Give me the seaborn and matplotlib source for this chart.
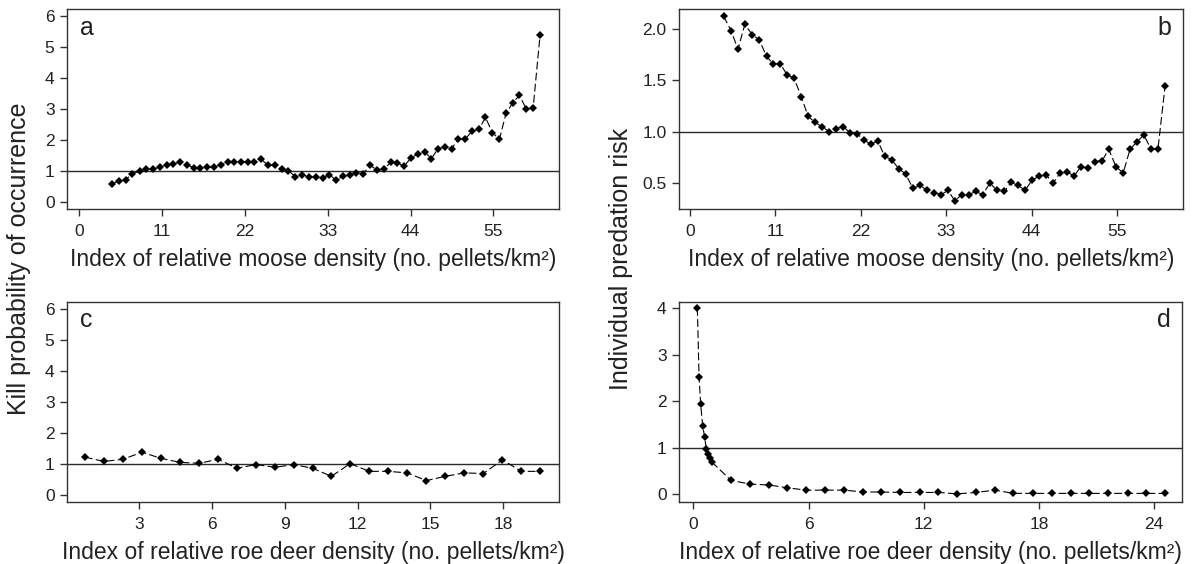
import numpy as np
import pandas as pd
import matplotlib
matplotlib.use("Agg")
import matplotlib.pyplot as plt
import seaborn as sns

# ---- data ----
moose_x = [4.34, 5.31, 6.19, 7.08, 8.05, 8.94, 9.87, 10.71, 11.64, 12.52, 13.41, 14.34, 15.22, 16.11,
           16.99, 17.92, 18.85, 19.73, 20.62, 21.50, 22.39, 23.27, 24.20, 25.09, 25.97, 26.90, 27.79,
           28.72, 29.65, 30.53, 31.42, 32.35, 33.23, 34.12, 35.04, 35.93, 36.81, 37.70, 38.63, 39.56,
           40.49, 41.37, 42.26, 43.14, 44.07, 45.00, 45.88, 46.77, 47.65, 48.58, 49.47, 50.35, 51.28,
           52.17, 53.10, 53.94, 54.87, 55.80, 56.68, 57.57, 58.45, 59.38, 60.27, 61.19]
kill_moose = [0.59, 0.67, 0.72, 0.91, 0.99, 1.06, 1.06, 1.13, 1.20, 1.23, 1.28, 1.20, 1.10, 1.10,
              1.13, 1.13, 1.20, 1.30, 1.28, 1.30, 1.28, 1.28, 1.37, 1.18, 1.18, 1.06, 1.01,
              0.81, 0.88, 0.81, 0.81, 0.78, 0.88, 0.70, 0.83, 0.86, 0.94, 0.91, 1.18, 1.03,
              1.06, 1.28, 1.26, 1.15, 1.43, 1.54, 1.61, 1.40, 1.72, 1.77, 1.72, 2.04, 2.04,
              2.28, 2.35, 2.73, 2.23, 2.03, 2.87, 3.20, 3.44, 2.99, 3.04, 5.40]
risk_moose = [2.12, 1.98, 1.80, 2.04, 1.94, 1.89, 1.73, 1.66, 1.66, 1.55, 1.52, 1.34, 1.15, 1.09,
              1.05, 1.00, 1.03, 1.05, 0.99, 0.98, 0.92, 0.88, 0.91, 0.76, 0.73, 0.64, 0.59,
              0.45, 0.48, 0.43, 0.41, 0.39, 0.43, 0.33, 0.39, 0.39, 0.42, 0.39, 0.50, 0.43,
              0.42, 0.51, 0.48, 0.43, 0.53, 0.57, 0.58, 0.50, 0.60, 0.61, 0.57, 0.66, 0.65,
              0.71, 0.72, 0.83, 0.66, 0.60, 0.83, 0.90, 0.97, 0.83, 0.83, 1.44]

roe_x_c = [0.76, 1.54, 2.33, 3.11, 3.89, 4.68, 5.46, 6.25, 7.03, 7.82, 8.60, 9.37, 10.14, 10.92,
           11.69, 12.48, 13.26, 14.05, 14.83, 15.61, 16.40, 17.18, 17.97, 18.75, 19.53]
kill_roe = [1.22, 1.08, 1.15, 1.38, 1.18, 1.05, 1.02, 1.15, 0.86, 0.98, 0.89, 0.98, 0.86, 0.60,
            1.01, 0.76, 0.76, 0.71, 0.46, 0.60, 0.71, 0.69, 1.13, 0.76, 0.76]

roe_x_d = [0.21, 0.30, 0.38, 0.49, 0.59, 0.68, 0.78, 0.87, 0.95, 1.96, 2.95, 3.94, 4.90, 5.87,
           6.88, 7.86, 8.84, 9.79, 10.78, 11.81, 12.76, 13.75, 14.72, 15.71, 16.67, 17.71,
           18.68, 19.65, 20.63, 21.61, 22.62, 23.59, 24.57]
risk_roe = [4.00, 2.52, 1.95, 1.46, 1.23, 0.97, 0.87, 0.77, 0.70, 0.30, 0.22, 0.20, 0.14, 0.09,
            0.09, 0.09, 0.05, 0.05, 0.04, 0.04, 0.04, 0.01, 0.04, 0.09, 0.02, 0.02,
            0.02, 0.02, 0.02, 0.02, 0.02, 0.02, 0.02]

moose_ticks = [0, 11, 22, 33, 44, 55]
roe_ticks_c = [3, 6, 9, 12, 15, 18]
roe_ticks_d = [0, 6, 12, 18, 24]
kill_yticks = [0, 1, 2, 3, 4, 5, 6]
risk_moose_yticks = [0.5, 1.0, 1.5, 2.0]
risk_roe_yticks = [0, 1, 2, 3, 4]

xlab_moose = "Index of relative moose density (no. pellets/km²)"
xlab_roe = "Index of relative roe deer density (no. pellets/km²)"

# ---- style ----
sns.set_style("ticks")
plt.rcParams['font.family'] = ['Liberation Sans', 'DejaVu Sans']
plt.rcParams['axes.edgecolor'] = '#333333'
plt.rcParams['axes.linewidth'] = 1.0
plt.rcParams['xtick.color'] = '#333333'
plt.rcParams['ytick.color'] = '#333333'
plt.rcParams['xtick.labelcolor'] = '#222222'
plt.rcParams['ytick.labelcolor'] = '#222222'

fig = plt.figure(figsize=(11.95, 5.64), dpi=100)
W, H = 1195, 564

def add_ax(l, r, t, b):
    return fig.add_axes([l / W, 1 - b / H, (r - l) / W, (b - t) / H])

ax_a = add_ax(67, 559, 9, 209)
ax_b = add_ax(679, 1183, 9, 209)
ax_c = add_ax(67, 559, 302, 502)
ax_d = add_ax(679, 1182, 302, 502)

line_kw = dict(color='black', marker='D', markersize=4, markeredgewidth=0,
               linewidth=0.8, linestyle=(0, (7, 3)), errorbar=None)

def draw(ax, x, y, xlim, ylim, xticks, yticks, xlabel, letter, letter_pos, yfmt=None):
    df = pd.DataFrame({'x': x, 'y': y})
    ax.axhline(1, color='#2a2a2a', linewidth=1.0, zorder=1)
    sns.lineplot(data=df, x='x', y='y', ax=ax, **line_kw)
    ax.set_xlim(*xlim)
    ax.set_ylim(*ylim)
    ax.set_xticks(xticks)
    ax.set_yticks(yticks)
    if yfmt:
        ax.set_yticklabels([yfmt.format(v) for v in yticks])
    ax.tick_params(axis='both', labelsize=12.5, length=5, width=1, direction='out')
    ax.tick_params(axis='x', pad=6)
    ax.tick_params(axis='y', pad=4)
    ax.set_xlabel(xlabel, fontsize=16.5, color='#222222', labelpad=6)
    ax.set_ylabel('')
    ax.text(letter_pos[0], letter_pos[1], letter, transform=ax.transAxes, fontsize=18,
            color='#222222', ha=letter_pos[2], va='baseline')
    for s in ax.spines.values():
        s.set_visible(True)

draw(ax_a, moose_x, kill_moose, (-1.6, 63.7), (-0.23, 6.23), moose_ticks, kill_yticks,
     xlab_moose, 'a', (0.026, 0.87, 'left'))
draw(ax_b, moose_x, risk_moose, (-1.4, 63.5), (0.25, 2.19), moose_ticks, risk_moose_yticks,
     xlab_moose, 'b', (0.976, 0.87, 'right'), yfmt='{:.1f}')
draw(ax_c, roe_x_c, kill_roe, (0.02, 20.3), (-0.23, 6.23), roe_ticks_c, kill_yticks,
     xlab_roe, 'c', (0.026, 0.875, 'left'))
draw(ax_d, roe_x_d, risk_roe, (-0.745, 25.45), (-0.165, 4.13), roe_ticks_d, risk_roe_yticks,
     xlab_roe, 'd', (0.978, 0.875, 'right'))

fig.text(19 / W, 1 - 259 / H, "Kill probability of occurrence", rotation=90,
         ha='center', va='center', fontsize=18, color='#222222')
fig.text(621 / W, 1 - 259 / H, "Individual predation risk", rotation=90,
         ha='center', va='center', fontsize=18, color='#222222')

fig.savefig("out.png", dpi=100)
